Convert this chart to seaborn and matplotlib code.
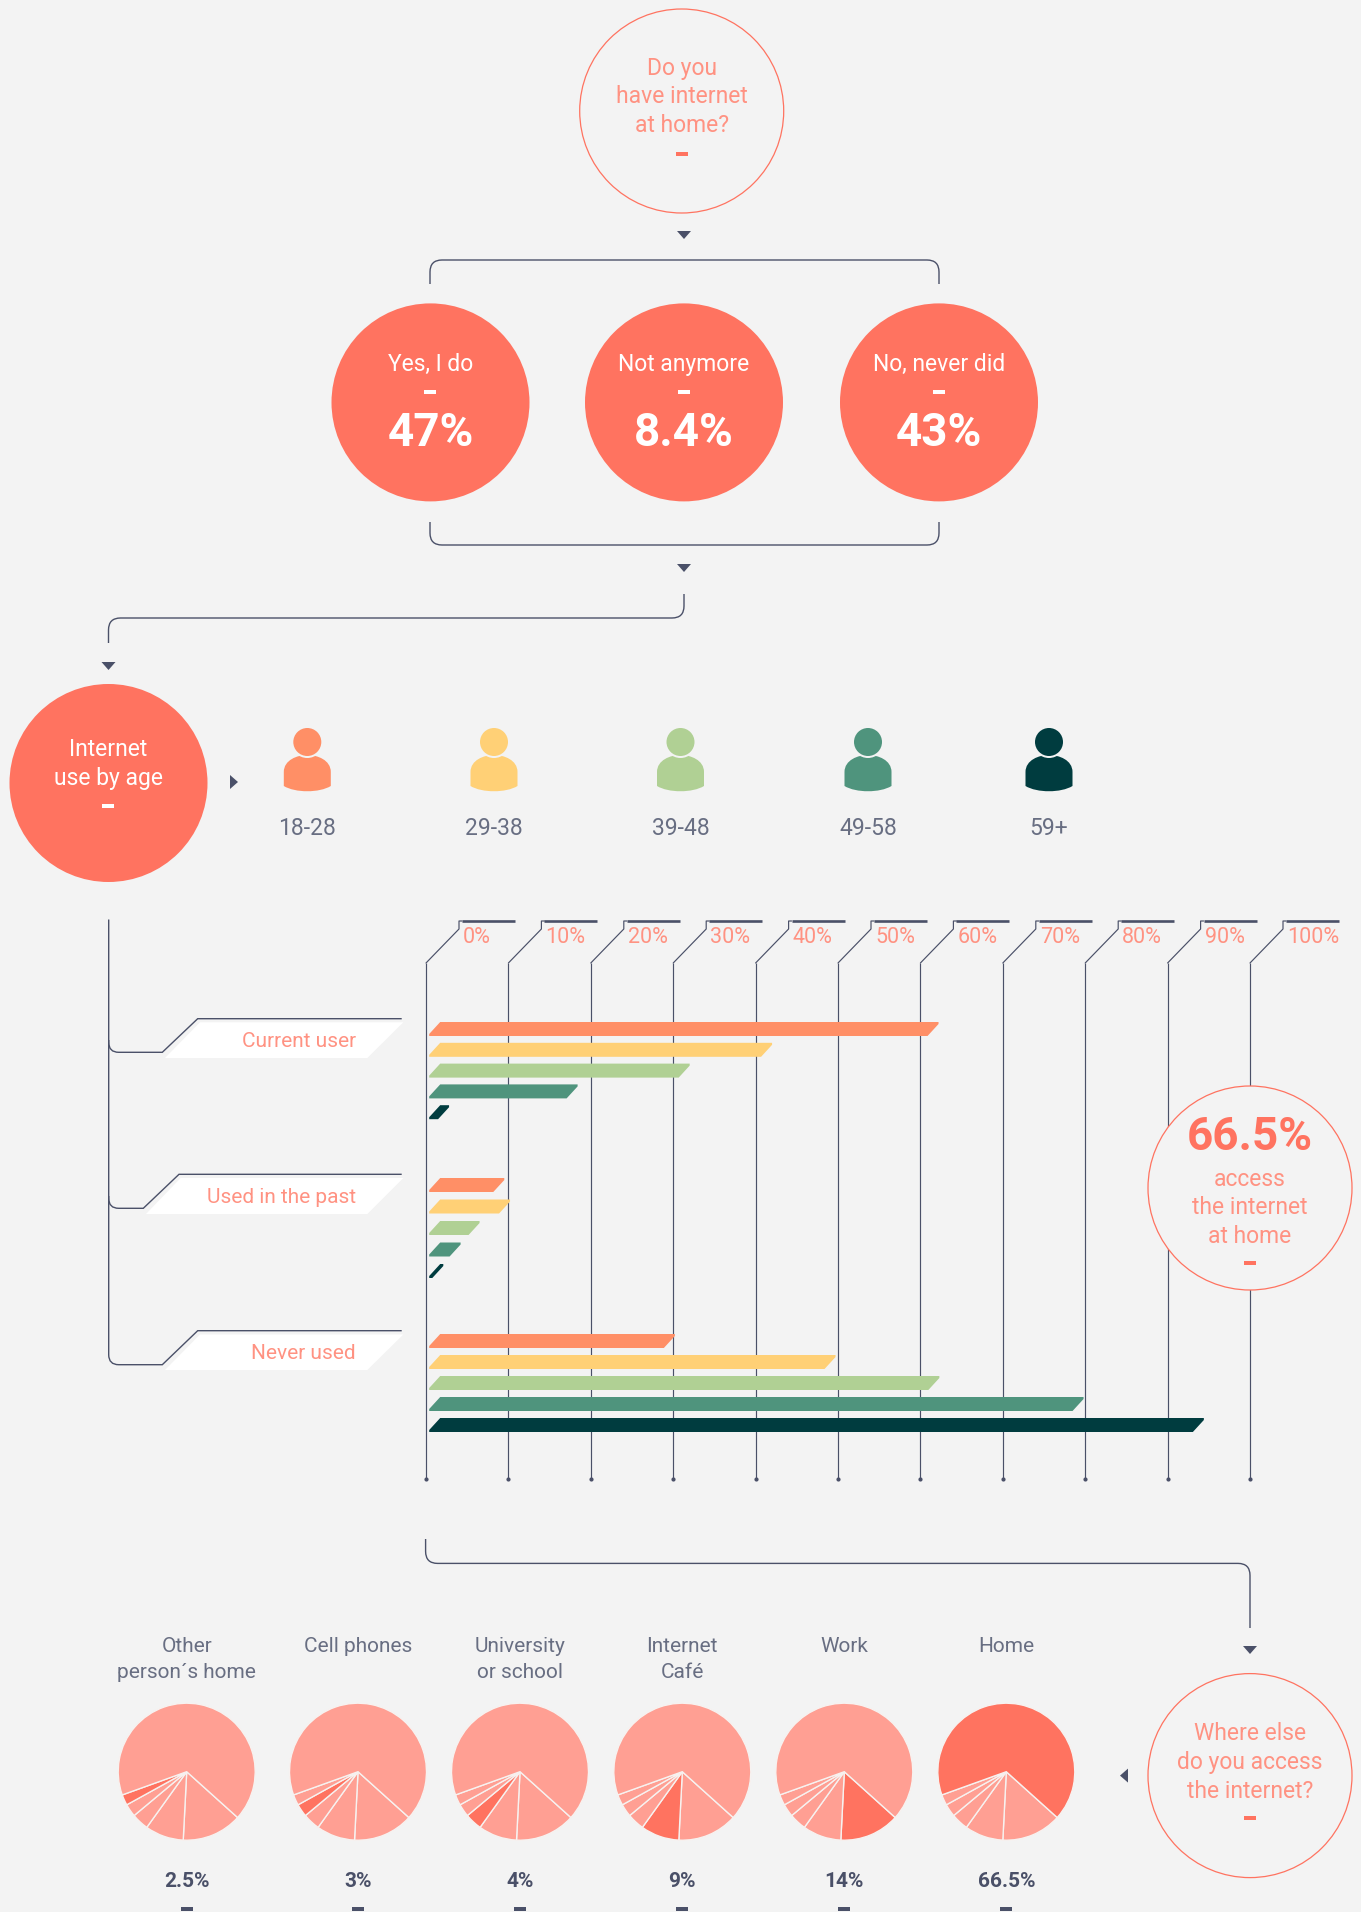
import numpy as np
import pandas as pd
import matplotlib
matplotlib.use("Agg")
import matplotlib.pyplot as plt
import seaborn as sns
from matplotlib.patches import Circle, Polygon, Rectangle, PathPatch
from matplotlib.path import Path

# data
ages = ["18-28", "29-38", "39-48", "49-58", "59+"]
age_colors = ["#ff8f66", "#ffd076", "#b0d094", "#4f947d", "#003c3f"]
current_user = [62.2, 42, 32, 18.4, 2.8]
used_in_past = [9.5, 10.2, 6.5, 4.2, 2.1]
never_used = [30.2, 49.7, 62.3, 79.8, 94.4]
usage_labels = ["Current user", "Used in the past", "Never used"]
tick_values = [0, 10, 20, 30, 40, 50, 60, 70, 80, 90, 100]
tick_labels = ["0%", "10%", "20%", "30%", "40%", "50%", "60%", "70%", "80%", "90%", "100%"]
home_labels = ["Yes, I do", "Not anymore", "No, never did"]
home_values = ["47%", "8.4%", "43%"]
place_labels = ["Other\nperson´s home", "Cell phones", "University\nor school", "Internet\nCafé", "Work", "Home"]
place_text = ["2.5%", "3%", "4%", "9%", "14%", "66.5%"]
slice_names = ["Work", "Internet\nCafé", "University\nor school", "Cell phones", "Other\nperson´s home", "Home"]
slice_values = [14, 9, 4, 3, 2.5, 66.5]

W, H = 1361, 1912
BG = "#f3f3f3"
CORAL = "#ff7360"
CORAL_TEXT = "#ff9282"
PALE = "#ff9f93"
INK = "#4a5068"
GREY = "#686e82"

sns.set_theme(style="white")
plt.rcParams["font.family"] = ["Roboto", "DejaVu Sans"]

fig = plt.figure(figsize=(W / 100, H / 100), dpi=100, facecolor=BG)


def px_axes(x0, y0, x1, y1, z):
    a = fig.add_axes([x0 / W, 1 - y1 / H, (x1 - x0) / W, (y1 - y0) / H], zorder=z)
    a.patch.set_alpha(0)
    return a


def full_axes(z):
    a = px_axes(0, 0, W, H, z)
    a.set_xlim(0, W)
    a.set_ylim(H, 0)
    a.axis("off")
    return a


ax = full_axes(0)
top = full_axes(3)


def label(a, x, y, s, color=CORAL_TEXT, size=16.5, weight="normal", ha="center"):
    a.text(x, y + 1.5, s, color=color, fontsize=size, fontweight=weight, ha=ha, va="center")


def dash(a, x, y, color=CORAL):
    a.add_patch(Rectangle((x - 6, y - 2), 12, 4, color=color, lw=0))


def tri(a, x, y, direction="down"):
    if direction == "down":
        pts = [(x - 7, y - 4), (x + 7, y - 4), (x, y + 4)]
    elif direction == "right":
        pts = [(x - 4, y - 7), (x - 4, y + 7), (x + 4, y)]
    else:
        pts = [(x + 4, y - 7), (x + 4, y + 7), (x - 4, y)]
    a.add_patch(Polygon(pts, color=INK, lw=0))


def rounded(a, pts, r=12, lw=1.0, sharp_after=99):
    verts = [pts[0]]
    codes = [Path.MOVETO]
    for i in range(1, len(pts) - 1):
        p = np.array(pts[i], float)
        if i >= sharp_after:
            verts.append(tuple(p))
            codes.append(Path.LINETO)
            continue
        d0 = np.array(pts[i - 1], float) - p
        d1 = np.array(pts[i + 1], float) - p
        d0 = d0 / np.hypot(*d0)
        d1 = d1 / np.hypot(*d1)
        verts += [tuple(p + d0 * r), tuple(p), tuple(p + d1 * r)]
        codes += [Path.LINETO, Path.CURVE3, Path.CURVE3]
    verts.append(pts[-1])
    codes.append(Path.LINETO)
    a.add_patch(PathPatch(Path(verts, codes), fc="none", ec=INK, lw=lw))


def outline_circle(a, x, y, lines, dash_y, r=102):
    a.add_patch(Circle((x, y), r, fc=BG, ec=CORAL, lw=0.9))
    for ly, s in lines:
        label(a, x, ly, s)
    dash(a, x, dash_y)


# question at the top
outline_circle(ax, 681.7, 111, [(67, "Do you"), (95, "have internet"), (124, "at home?")], 153.6)
tri(ax, 684, 235)
rounded(ax, [(430, 284), (430, 260), (939, 260), (939, 284)])
for cx, name, val in zip([430.5, 684, 939], home_labels, home_values):
    ax.add_patch(Circle((cx, 402.4), 99, color=CORAL, lw=0))
    label(ax, cx, 363, name, color="white")
    dash(ax, cx, 392, color="white")
    label(ax, cx, 431, val, color="white", size=33, weight="bold")
rounded(ax, [(430, 522), (430, 545), (939, 545), (939, 522)])
tri(ax, 684, 568)
rounded(ax, [(684, 594), (684, 618), (108.5, 618), (108.5, 643)])
tri(ax, 108.5, 666)

# age row
ax.add_patch(Circle((108.5, 783), 99, color=CORAL, lw=0))
label(ax, 108.5, 748, "Internet", color="white")
label(ax, 108.5, 777, "use by age", color="white")
dash(ax, 108.5, 806, color="white")
tri(ax, 234, 782, "right")
for cx, name, col in zip([307.3, 494, 680.5, 868, 1049], ages, age_colors):
    body = Path(
        [(cx - 23.5, 786), (cx - 23.5, 772), (cx - 23.5, 760), (cx - 10, 755), (cx, 755),
         (cx + 10, 755), (cx + 23.5, 760), (cx + 23.5, 772), (cx + 23.5, 786),
         (cx + 12, 793), (cx - 12, 793), (cx - 23.5, 786)],
        [Path.MOVETO, Path.LINETO, Path.CURVE4, Path.CURVE4, Path.CURVE4,
         Path.CURVE4, Path.CURVE4, Path.CURVE4, Path.LINETO,
         Path.CURVE4, Path.CURVE4, Path.CURVE4],
    )
    ax.add_patch(PathPatch(body, color=col, lw=0))
    ax.add_patch(Circle((cx, 742), 16, color=BG, lw=0))
    ax.add_patch(Circle((cx, 742), 14, color=col, lw=0))
    label(ax, cx, 827, name, color=GREY)

# usage labels on the left
rounded(ax, [(108.7, 919.5), (108.7, 1364.7), (162.3, 1364.7), (197.7, 1330.7), (401.7, 1330.7)], r=10, sharp_after=2)
rounded(ax, [(108.7, 1040), (108.7, 1052.3), (162.3, 1052.3), (197.7, 1018.7), (401.7, 1018.7)], r=10, sharp_after=2)
rounded(ax, [(108.7, 1196), (108.7, 1208.3), (143.3, 1208.3), (179, 1174.3), (401.7, 1174.3)], r=10, sharp_after=2)
shapes = [
    [(200, 1022.3), (403.3, 1022.3), (367.3, 1058), (165, 1058)],
    [(180.7, 1178), (403.3, 1178), (367.3, 1214), (146, 1214)],
    [(200, 1334.5), (403.3, 1334.5), (367.3, 1370), (165, 1370)],
]
for pts, name, ly in zip(shapes, usage_labels, [1040, 1196, 1352]):
    ax.add_patch(Polygon(pts, color="white", lw=0))
    label(ax, 356, ly, name, ha="right", size=15)

# percentage scale
X0, X1 = 426, 1250
per = (X1 - X0) / 100
grid = px_axes(X0, 915, X1, 1485, 1)
grid.set_xlim(0, 100)
grid.set_ylim(1485, 915)
grid.axis("off")
grid.vlines(tick_values, 963, 1479, color=INK, lw=0.85, clip_on=False)
grid.scatter(tick_values, [1479] * len(tick_values), s=9, color=INK, clip_on=False, linewidths=0)
for v, s in zip(tick_values, tick_labels):
    grid.plot([v, v + 33 / per, v + 33 / per, v + 36 / per], [963, 929, 921, 921], color=INK, lw=0.85, clip_on=False)
    grid.plot([v + 36 / per, v + 89 / per], [921, 921], color=INK, lw=1.9, clip_on=False, solid_capstyle="butt")
    grid.text(v + 37 / per, 937, s, color=CORAL_TEXT, fontsize=15.5, ha="left", va="center")

# bars, one axes for each usage group
group_values = [current_user, used_in_past, never_used]
group_first = [1029, 1185, 1341]
group_pitch = [20.8, 21.5, 21]
for vals, first, pitch, name in zip(group_values, group_first, group_pitch, usage_labels):
    df = pd.DataFrame({"age": ages, "value": vals, "usage": name})
    bx = px_axes(X0, first - pitch / 2, X1, first + 4.5 * pitch, 2)
    sns.barplot(data=df, x="value", y="age", hue="age", palette=age_colors, dodge=False,
                saturation=1, width=14 / pitch, legend=False, ax=bx)
    bx.set_xlim(0, 100)
    bx.axis("off")
    bx.patch.set_alpha(0)
    skew = 11 / per
    start = 3.2 / per
    lip = 2 / pitch
    for bar in list(bx.patches):
        y0, h, w = bar.get_y(), bar.get_height(), bar.get_width()
        col = bar.get_facecolor()
        bar.set_visible(False)
        bx.add_patch(Polygon(
            [(start, y0 + h), (start, y0 + h - lip), (start + skew, y0), (w, y0), (w, y0 + lip), (w - skew, y0 + h)],
            color=col, lw=0))

# 66.5% callout
outline_circle(top, 1250, 1188, [(1178, "access"), (1206, "the internet"), (1235, "at home")], 1263)
label(top, 1250, 1136, "66.5%", color=CORAL, size=33, weight="bold")

# link to the bottom row
rounded(ax, [(425.6, 1539), (425.6, 1563.4), (1250, 1563.4), (1250, 1628)])
tri(ax, 1250, 1650)
outline_circle(ax, 1250, 1775.6, [(1732, "Where else"), (1761, "do you access"), (1790, "the internet?")], 1818)
tri(ax, 1124, 1775.6, "left")

# pies
pie_x = [186.7, 358, 520, 682.3, 844.3, 1006.3]
for cx, name, text in zip(pie_x, place_labels, place_text):
    pax = px_axes(cx - 68.5, 1771.7 - 68.5, cx + 68.5, 1771.7 + 68.5, 1)
    cols = [CORAL if s == name else PALE for s in slice_names]
    pax.pie(slice_values, colors=cols, startangle=-42, counterclock=False, radius=1,
            wedgeprops={"edgecolor": "#f7f2f0", "linewidth": 1.0})
    pax.set_xlim(-1, 1)
    pax.set_ylim(-1, 1)
    for i, line in enumerate(name.split("\n")):
        label(ax, cx, 1645 + i * 26, line, color=GREY, size=15)
    label(ax, cx, 1880, text, color=INK, size=15, weight="bold")
    dash(ax, cx, 1909, color=INK)

fig.savefig("out.png", dpi=100, facecolor=BG)
